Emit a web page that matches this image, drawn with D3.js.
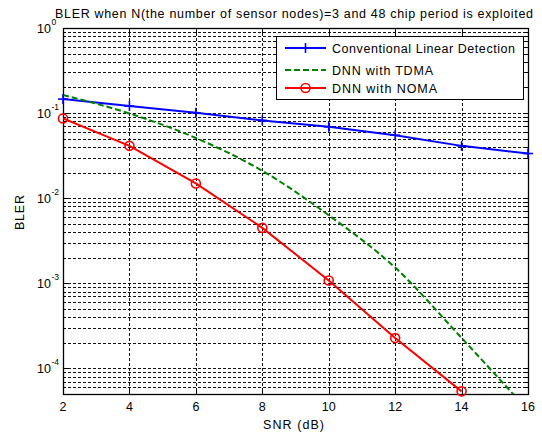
<!DOCTYPE html>
<html>
<head>
<meta charset="utf-8">
<script src="https://cdn.jsdelivr.net/npm/d3@7"></script>
<style>
  body { margin: 0; background: #fff; }
  svg { display: block; font-family: "Liberation Sans", Arial, sans-serif; }
</style>
</head>
<body>
<svg id="chart" width="542" height="433"></svg>
<script>
// SNR points (dB)
const snr = [2, 4, 6, 8, 10, 12, 14, 16];
// Block error rate per scheme
const conventional = [0.146, 0.121, 0.101, 0.082, 0.069, 0.055, 0.0412, 0.0335];
const dnnTdma = [0.163, 0.099, 0.051, 0.021, 0.0063, 0.00153, 0.000228, 0.000032];
const dnnNoma = [0.0866, 0.0412, 0.0149, 0.00448, 0.00108, 0.000227, 0.0000537];
const xTicks = [2, 4, 6, 8, 10, 12, 14, 16];
const yDecades = [-4, -3, -2, -1, 0];
const seriesNames = ["Conventional Linear Detection", "DNN with TDMA", "DNN with NOMA"];
const legendTextWidths = [183, 101, 105];

const svg = d3.select("#chart");
const m = { left: 63, right: 528, top: 28, bottom: 394 };

const x = d3.scaleLinear().domain([2, 16]).range([m.left, m.right]);
const y = d3.scaleLog().domain([5e-5, 1]).range([m.bottom, m.top]);

// clip region for the curves
svg.append("defs").append("clipPath").attr("id", "plotclip")
  .append("rect").attr("x", m.left).attr("y", m.top - 2)
  .attr("width", m.right - m.left + 2).attr("height", m.bottom - m.top + 2);

// grid
const grid = svg.append("g").attr("stroke", "#111").attr("stroke-width", 1)
  .attr("stroke-dasharray", "3,2").attr("fill", "none");
xTicks.slice(1, -1).forEach(v => {
  grid.append("line").attr("x1", Math.round(x(v)) + 0.5).attr("x2", Math.round(x(v)) + 0.5)
    .attr("y1", m.top).attr("y2", m.bottom);
});
const minorVals = [];
for (let e = -5; e <= 0; e++) {
  for (let k = 1; k <= 9; k++) {
    const v = k * Math.pow(10, e);
    if (v > 5e-5 + 1e-12 && v < 1 - 1e-9) minorVals.push(v);
  }
}
minorVals.forEach(v => {
  const yy = Math.round(y(v)) + 0.5;
  grid.append("line").attr("x1", m.left).attr("x2", m.right).attr("y1", yy).attr("y2", yy);
});

// axes box
svg.append("rect").attr("x", m.left + 0.5).attr("y", m.top + 0.5)
  .attr("width", m.right - m.left).attr("height", m.bottom - m.top)
  .attr("fill", "none").attr("stroke", "#000").attr("stroke-width", 1.3);

// tick marks (inward, on all sides)
const ticks = svg.append("g").attr("stroke", "#000").attr("stroke-width", 1);
xTicks.forEach(v => {
  const xx = Math.round(x(v)) + 0.5;
  ticks.append("line").attr("x1", xx).attr("x2", xx).attr("y1", m.bottom).attr("y2", m.bottom - 5);
  ticks.append("line").attr("x1", xx).attr("x2", xx).attr("y1", m.top).attr("y2", m.top + 5);
});
minorVals.concat(yDecades.map(d => Math.pow(10, d))).forEach(v => {
  const yy = Math.round(y(v)) + 0.5;
  const isMajor = Math.abs(Math.log10(v) - Math.round(Math.log10(v))) < 1e-9;
  const len = isMajor ? 5 : 3;
  ticks.append("line").attr("x1", m.left).attr("x2", m.left + len).attr("y1", yy).attr("y2", yy);
  ticks.append("line").attr("x1", m.right).attr("x2", m.right - len).attr("y1", yy).attr("y2", yy);
});

// x tick labels
svg.append("g").selectAll("text").data(xTicks).join("text")
  .attr("x", d => x(d)).attr("y", 411)
  .attr("text-anchor", "middle").attr("font-size", 12.5).attr("fill", "#000")
  .text(d => d);

// y tick labels as 10^n
const yl = svg.append("g").attr("fill", "#000");
yDecades.forEach(d => {
  const yy = y(Math.pow(10, d));
  yl.append("text").attr("x", 51).attr("y", yy + 5)
    .attr("text-anchor", "end").attr("font-size", 12.5).text("10");
  yl.append("text").attr("x", 51.5).attr("y", yy - 3)
    .attr("font-size", 8.5).text(d);
});

// axis titles
svg.append("text").attr("x", 263).attr("y", 429)
  .attr("font-size", 12.5).attr("textLength", 61).attr("lengthAdjust", "spacing")
  .text("SNR (dB)");
svg.append("text").attr("transform", `translate(24,212.5) rotate(-90)`)
  .attr("x", -17.5).attr("font-size", 12.5)
  .attr("textLength", 35).attr("lengthAdjust", "spacing").text("BLER");

// title
svg.append("text").attr("x", 55).attr("y", 18)
  .attr("font-size", 12.5).attr("textLength", 478).attr("lengthAdjust", "spacing")
  .text("BLER when N(the number of sensor nodes)=3 and 48 chip period is exploited");

// curves
const plot = svg.append("g").attr("clip-path", "url(#plotclip)");
const line = d3.line().x(d => x(d[0])).y(d => y(d[1]));

const convPts = snr.map((s, i) => [s, conventional[i]]);
const tdmaPts = snr.map((s, i) => [s, dnnTdma[i]]);
const nomaPts = dnnNoma.map((v, i) => [snr[i], v]);

plot.append("path").datum(convPts).attr("d", line)
  .attr("fill", "none").attr("stroke", "#0000ff").attr("stroke-width", 2);
plot.append("path").datum(tdmaPts).attr("d", line.curve(d3.curveMonotoneX))
  .attr("fill", "none").attr("stroke", "#008000").attr("stroke-width", 2)
  .attr("stroke-dasharray", "6,3");
line.curve(d3.curveLinear);
plot.append("path").datum(nomaPts).attr("d", line)
  .attr("fill", "none").attr("stroke", "#ff0000").attr("stroke-width", 2);

// markers
const plus = svg.append("g").attr("stroke", "#0000ff").attr("stroke-width", 1.6);
convPts.forEach(p => {
  const cx = x(p[0]), cy = y(p[1]);
  plus.append("line").attr("x1", cx - 5).attr("x2", cx + 5).attr("y1", cy).attr("y2", cy);
  plus.append("line").attr("x1", cx).attr("x2", cx).attr("y1", cy - 5).attr("y2", cy + 5);
});
svg.append("g").selectAll("circle").data(nomaPts).join("circle")
  .attr("cx", d => x(d[0])).attr("cy", d => y(d[1])).attr("r", 4.5)
  .attr("fill", "none").attr("stroke", "#ff0000").attr("stroke-width", 1.6);

// legend
const lg = svg.append("g");
lg.append("rect").attr("x", 276.5).attr("y", 36.5).attr("width", 247).attr("height", 63)
  .attr("fill", "#fff").attr("stroke", "#000").attr("stroke-width", 1);
const rows = [48, 70, 88];
const colors = ["#0000ff", "#008000", "#ff0000"];
seriesNames.forEach((name, i) => {
  const ry = rows[i];
  const ln = lg.append("line").attr("x1", 285).attr("x2", 326).attr("y1", ry).attr("y2", ry)
    .attr("stroke", colors[i]).attr("stroke-width", 2);
  if (i === 1) ln.attr("stroke-dasharray", "6,3");
  if (i === 0) {
    lg.append("line").attr("x1", 305.5).attr("x2", 305.5).attr("y1", ry - 5).attr("y2", ry + 5)
      .attr("stroke", colors[i]).attr("stroke-width", 1.6);
    lg.append("line").attr("x1", 300.5).attr("x2", 310.5).attr("y1", ry).attr("y2", ry)
      .attr("stroke", colors[i]).attr("stroke-width", 1.6);
  }
  if (i === 2) {
    lg.append("circle").attr("cx", 305.5).attr("cy", ry).attr("r", 4.5)
      .attr("fill", "none").attr("stroke", colors[i]).attr("stroke-width", 1.6);
  }
  lg.append("text").attr("x", 332).attr("y", ry + 4.5).attr("font-size", 12.5)
    .attr("textLength", legendTextWidths[i]).attr("lengthAdjust", "spacing")
    .attr("fill", "#000").text(name);
});
</script>
</body>
</html>
